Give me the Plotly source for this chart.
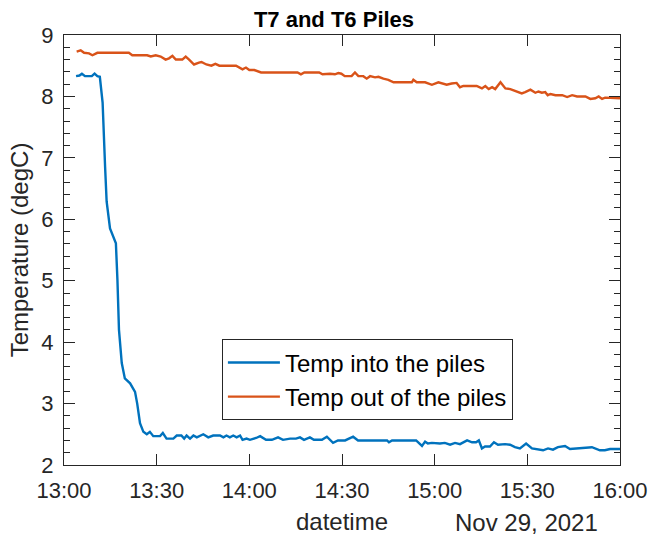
import pandas as pd
import plotly.graph_objects as go

# minutes after 13:00 on 2021-11-29
base_time = "2021-11-29 13:00:00"

into_minutes = [3.9, 5.0, 5.8, 6.8, 8.0, 9.0, 9.9, 10.8, 11.6, 12.5, 13.3, 13.8, 14.9, 16.0,
                16.8, 17.3, 17.8, 18.7, 19.7, 21.4, 23.0, 23.7, 24.6, 25.7, 26.8, 27.8,
                28.9, 31.1, 32.0, 33.2, 35.4, 36.5, 38.0, 38.9, 39.7, 40.8, 41.9, 43.0,
                45.1, 46.7, 48.3, 50.5, 51.6, 52.6, 53.7, 54.8, 55.9, 57.0, 57.8, 59.1,
                60.2, 62.2, 63.5, 65.4, 67.3, 69.3, 70.9, 73.2, 75.1, 76.4, 77.7, 79.6,
                80.9, 83.5, 85.1, 87.1, 88.7, 91.0, 93.6, 95.2, 104.6, 105.2, 106.2, 114.0,
                115.9, 116.9, 117.8, 119.1, 121.7, 123.3, 125.0, 126.6, 128.2, 130.5,
                132.1, 133.4, 134.3, 135.3, 136.3, 137.9, 139.2, 140.5, 142.8, 144.4,
                146.0, 147.6, 149.6, 151.5, 153.4, 155.1, 156.7, 158.3, 159.9, 162.2,
                163.8, 166.1, 168.7, 170.9, 173.5, 175.1, 176.8, 180.0]
into_temps = [8.33, 8.34, 8.37, 8.33, 8.33, 8.33, 8.37, 8.33, 8.32, 7.90, 6.86, 6.29, 5.85, 5.69,
              5.61, 5.01, 4.20, 3.66, 3.41, 3.33, 3.19, 3.00, 2.68, 2.54, 2.50, 2.54,
              2.47, 2.47, 2.52, 2.43, 2.43, 2.48, 2.48, 2.43, 2.48, 2.43, 2.48, 2.45,
              2.50, 2.45, 2.48, 2.48, 2.45, 2.48, 2.45, 2.48, 2.45, 2.48, 2.41, 2.43,
              2.41, 2.44, 2.47, 2.41, 2.41, 2.45, 2.41, 2.43, 2.43, 2.45, 2.41, 2.45,
              2.41, 2.41, 2.46, 2.36, 2.40, 2.40, 2.46, 2.40, 2.40, 2.37, 2.40, 2.40,
              2.31, 2.38, 2.35, 2.36, 2.35, 2.36, 2.33, 2.36, 2.34, 2.40,
              2.37, 2.37, 2.40, 2.27, 2.30, 2.30, 2.37, 2.33, 2.34, 2.33,
              2.29, 2.27, 2.35, 2.27, 2.26, 2.24, 2.27, 2.25, 2.29, 2.31,
              2.26, 2.27, 2.27, 2.29, 2.24, 2.24, 2.26, 2.26]

out_minutes = [4.1, 5.4, 6.5, 8.1, 9.2, 10.8, 21.0, 22.1, 26.9, 28.1, 29.7, 31.3, 32.9, 34.0,
               35.1, 36.2, 38.3, 39.4, 40.5, 42.1, 43.7, 44.5, 46.1, 47.7, 49.0, 50.3,
               55.7, 57.8, 58.9, 60.0, 61.6, 63.8, 75.6, 76.7, 77.8, 82.6, 83.7, 86.1,
               87.7, 88.8, 89.8, 90.9, 93.1, 94.2, 95.3, 96.9, 98.0, 99.1, 100.7, 101.8,
               103.4, 105.0, 106.7, 112.6, 113.1, 114.2, 116.9, 119.1, 121.2, 122.8,
               123.9, 125.5, 127.1, 128.2, 129.3, 133.6, 135.3, 136.4, 137.5, 138.6,
               139.6, 141.3, 142.9, 144.5, 146.1, 148.2, 149.3, 151.0, 152.6, 153.6,
               154.7, 155.8, 156.6, 157.5, 159.1, 161.3, 162.9, 164.5, 166.1, 168.8,
               170.4, 172.0, 173.1, 174.2, 175.2, 177.4, 180.0]
out_temps = [8.73, 8.75, 8.71, 8.70, 8.67, 8.71, 8.71, 8.67, 8.67, 8.65, 8.67, 8.65, 8.60, 8.62,
             8.66, 8.60, 8.60, 8.65, 8.60, 8.52, 8.55, 8.56, 8.52, 8.50, 8.53, 8.50,
             8.50, 8.44, 8.47, 8.43, 8.43, 8.39, 8.39, 8.36, 8.39, 8.39, 8.36, 8.37,
             8.36, 8.38, 8.37, 8.33, 8.33, 8.39, 8.33, 8.33, 8.29, 8.33, 8.31, 8.32,
             8.29, 8.27, 8.23, 8.23, 8.27, 8.23, 8.23, 8.19, 8.23, 8.21,
             8.19, 8.21, 8.22, 8.15, 8.17, 8.17, 8.13, 8.17, 8.12, 8.15,
             8.12, 8.23, 8.13, 8.12, 8.09, 8.05, 8.07, 8.11, 8.06, 8.08,
             8.06, 8.07, 8.02, 8.04, 8.02, 8.02, 7.99, 8.02, 8.00, 8.00,
             7.96, 7.97, 8.00, 7.96, 7.98, 7.97, 7.97]

y_ticks = [2, 3, 4, 5, 6, 7, 8, 9]
x_tick_labels = ["13:00", "13:30", "14:00", "14:30", "15:00", "15:30", "16:00"]
series_names = ["Temp into the piles", "Temp out of the piles"]
date_label = "Nov 29, 2021"

t0 = pd.Timestamp(base_time)
def to_time(mins):
    return [t0 + pd.Timedelta(minutes=m) for m in mins]

tick_vals = [t0 + pd.Timedelta(minutes=30 * i) for i in range(len(x_tick_labels))]

FONT = "Liberation Sans, Arial, sans-serif"
AX = "#262626"

fig = go.Figure()
fig.add_trace(go.Scatter(x=to_time(into_minutes), y=into_temps, mode="lines",
                         name=series_names[0], line=dict(color="#0072BD", width=2.4)))
fig.add_trace(go.Scatter(x=to_time(out_minutes), y=out_temps, mode="lines",
                         name=series_names[1], line=dict(color="#D95319", width=2.4)))

fig.update_layout(
    width=668, height=537,
    margin=dict(l=64, r=48, t=35, b=72),
    paper_bgcolor="white", plot_bgcolor="white",
    font=dict(family=FONT, size=22, color=AX),
    title=dict(text="<b>T7 and T6 Piles</b>", x=0.5, xanchor="center",
               y=1 - 19 / 537, yanchor="middle", yref="container",
               font=dict(family=FONT, size=22, color="black")),
    showlegend=True,
    legend=dict(x=0.284, y=0.198, xanchor="left", yanchor="middle",
                bgcolor="white", bordercolor=AX, borderwidth=1,
                font=dict(family=FONT, size=24, color="black"),
                itemwidth=52, tracegroupgap=0),
)

fig.update_xaxes(
    type="date", range=[tick_vals[0], tick_vals[-1]],
    tickvals=tick_vals, ticktext=x_tick_labels,
    ticks="inside", ticklen=11, tickcolor=AX, tickwidth=1,
    ticklabelstandoff=6, automargin=False,
    showline=True, linecolor=AX, linewidth=1, mirror="ticks",
    showgrid=False, zeroline=False,
    tickfont=dict(size=22, color=AX),
    title=dict(text="datetime", font=dict(size=24, color=AX), standoff=10),
)
fig.update_yaxes(
    range=[2, 9], tickvals=y_ticks,
    ticks="inside", ticklen=11, tickcolor=AX, tickwidth=1,
    ticklabelstandoff=5, automargin=False,
    minor=dict(ticks="inside", ticklen=6, dtick=0.2, tickcolor=AX, showgrid=False),
    showline=True, linecolor=AX, linewidth=1, mirror="ticks",
    showgrid=False, zeroline=False,
    tickfont=dict(size=22, color=AX),
    title=dict(text="Temperature (degC)", font=dict(size=24, color=AX), standoff=5),
)

fig.add_annotation(text=date_label, xref="paper", yref="paper", x=(600 - 64) / 556, y=0,
                   xanchor="right", yanchor="middle", yshift=-57, showarrow=False,
                   font=dict(family=FONT, size=24, color=AX))

fig.write_html("out.html")
